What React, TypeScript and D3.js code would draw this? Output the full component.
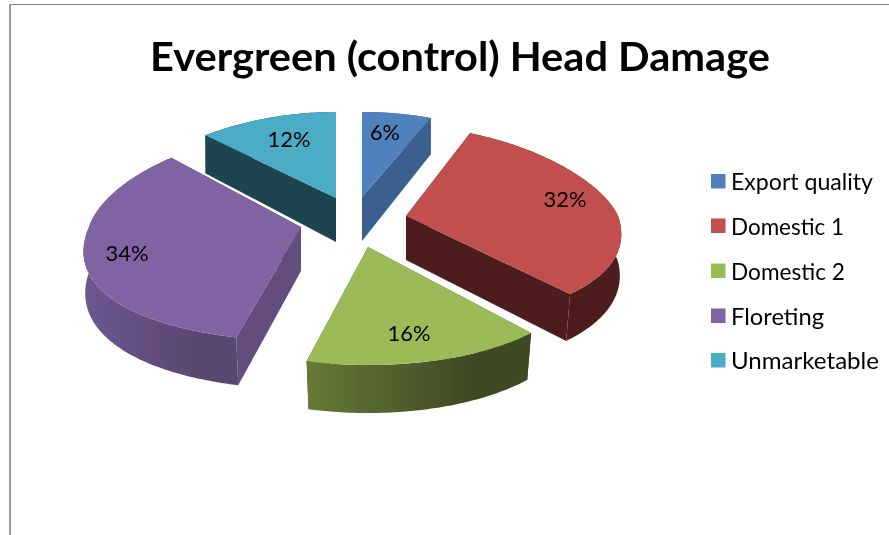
import React from "react";
import * as d3 from "d3";

const titleText = "Evergreen (control) Head Damage";
const categories = ["Export quality", "Domestic 1", "Domestic 2", "Floreting", "Unmarketable"];
const shares = [6, 32, 16, 34, 12];
const labels = ["6%", "32%", "16%", "34%", "12%"];

const topColors = ["#4f81bd", "#c0504d", "#9bbb59", "#8064a2", "#4bacc6"];
const edgeColors = ["#3a618f", "#4d1e1c", "#3f4a22", "#634d7e", "#1e4450"];
const rimLeft = ["#3a618f", "#4d1e1c", "#667a38", "#6d5790", "#1e4450"];
const rimRight = ["#3a618f", "#4d1e1c", "#3e4922", "#594670", "#1e4450"];

// Slice placement in the exploded perspective view
const apexX = [362, 406, 368, 301, 336];
const apexY = [197, 216, 247, 227, 198];
const radiusBackY = [85, 89, 100, 95, 86];
const radiusFrontY = [100, 107, 118, 114, 100];
const widthBack = [27, 41, 36, 31, 29];
const widthFront = [34, 38, 36, 50, 34];
const labelX = [385, 565, 409, 127, 289];
const labelY = [131, 198, 332, 252, 138];
const drawOrder = [4, 0, 1, 3, 2];
const legendWidths = [142, 113, 114, 93, 148];
const legendRowY = [181.5, 226, 271, 316, 360.5];
const W = 889;
const H = 535;
const RX = 212;

const colorScale = d3.scaleOrdinal<string, string>().domain(categories).range(topColors);
const arcs = d3.pie<number>().sort(null).value((d) => d)(shares);
const line = d3.line<[number, number]>().x((d) => d[0]).y((d) => d[1]);

function project(i: number, theta: number, radius: number, bottom: boolean): [number, number] {
  const u = Math.sin(theta) * radius;
  const v = -Math.cos(theta) * radius;
  const rx = RX + v * (v < 0 ? widthBack[i] : widthFront[i]);
  const ry = v < 0 ? radiusBackY[i] : radiusFrontY[i];
  const depth = 44 + v * (v < 0 ? 8 : 4);
  const shrink = bottom ? 0.998 - 0.03 * Math.max(v, 0) : 1;
  const x = apexX[i] + u * rx * shrink;
  const y = apexY[i] + v * ry + (bottom ? depth : 0);
  return [x, y];
}

function rimPoints(i: number, bottom: boolean): [number, number][] {
  const a = arcs[i];
  const n = Math.max(4, Math.round(((a.endAngle - a.startAngle) * 180) / Math.PI));
  return d3.range(n + 1).map((k) => project(i, a.startAngle + ((a.endAngle - a.startAngle) * k) / n, 1, bottom));
}

function wallPoints(i: number, theta: number): [number, number][] {
  return [project(i, theta, 0, false), project(i, theta, 1, false), project(i, theta, 1, true), project(i, theta, 0, true)];
}

export default function App() {
  return (
    <svg width={W} height={H} viewBox={`0 0 ${W} ${H}`} style={{ position: "fixed", left: 0, top: 0, background: "#fff" }}>
      <defs>
        {categories.map((c, i) => (
          <linearGradient key={c} id={`rim${i}`} x1="0" x2="1" y1="0" y2="0">
            <stop offset="0" stopColor={rimLeft[i]} />
            <stop offset="0.75" stopColor={rimRight[i]} />
          </linearGradient>
        ))}
        <filter id="soft" x="-5%" y="-20%" width="110%" height="140%">
          <feGaussianBlur stdDeviation="0.55" />
        </filter>
        <filter id="softPie" x="-5%" y="-5%" width="110%" height="110%">
          <feGaussianBlur stdDeviation="0.4" />
        </filter>
      </defs>
      <line x1={9} x2={W} y1={4.5} y2={4.5} stroke="#808080" strokeWidth={1} />
      <line x1={10} x2={10} y1={4} y2={H} stroke="#9a9a9a" strokeWidth={2} />
      <g filter="url(#softPie)">
        {drawOrder.map((i) => {
          const a = arcs[i];
          const top = rimPoints(i, false);
          const bot = rimPoints(i, true);
          const topFace: [number, number][] = [project(i, 0, 0, false), ...top];
          return (
            <g key={categories[i]}>
              <path d={line(wallPoints(i, a.startAngle)) + "Z"} fill={edgeColors[i]} />
              <path d={line(wallPoints(i, a.endAngle)) + "Z"} fill={edgeColors[i]} />
              <path d={line([...top, ...bot.slice().reverse()]) + "Z"} fill={`url(#rim${i})`} />
              <path d={line(topFace) + "Z"} fill={colorScale(categories[i])} />
            </g>
          );
        })}
      </g>
      <g filter="url(#soft)" fontFamily="Lato, 'Open Sans', sans-serif" fill="#000">
        {labels.map((t, i) => (
          <text key={t} x={labelX[i]} y={labelY[i]} textAnchor="middle" dominantBaseline="central" fontSize={22} textLength={t.length === 2 ? 30 : 43} lengthAdjust="spacingAndGlyphs">
            {t}
          </text>
        ))}
        <text x={150} y={71} fontSize={41} fontWeight={700} textLength={620} lengthAdjust="spacingAndGlyphs">
          {titleText}
        </text>
        {categories.map((c, i) => (
          <text key={c} x={731} y={legendRowY[i] + 8.5} fontSize={23} textLength={legendWidths[i]} lengthAdjust="spacingAndGlyphs">
            {c}
          </text>
        ))}
      </g>
      <g filter="url(#softPie)">
        {categories.map((c, i) => (
          <rect key={c} x={711} y={legendRowY[i] - 7.5} width={14.5} height={14.5} fill={colorScale(c)} />
        ))}
      </g>
    </svg>
  );
}
